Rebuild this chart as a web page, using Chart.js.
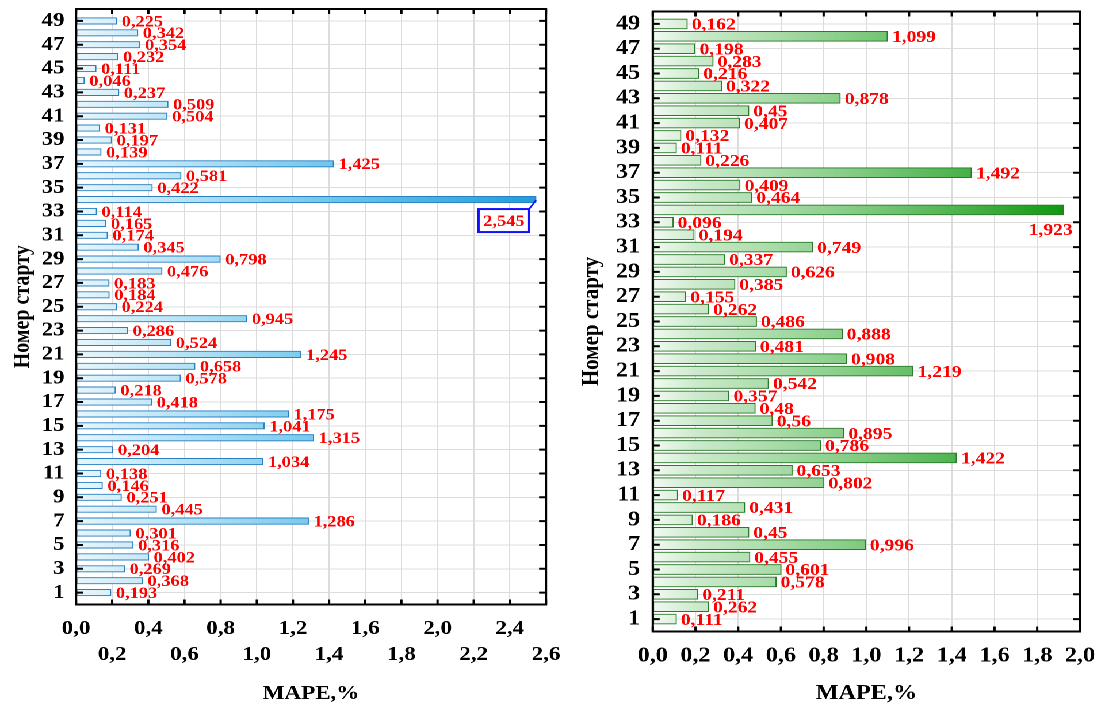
<!DOCTYPE html>
<html>
<head>
<meta charset="utf-8">
<script src="https://cdn.jsdelivr.net/npm/chart.js@4.4.1/dist/chart.umd.min.js"></script>
<style>
  html, body { margin: 0; padding: 0; background: #fff; overflow: hidden; }
  /* the whole figure is drawn a little narrower and widened as one piece */
  #stage { position: absolute; left: 0; top: 0; width: 957px; height: 706px;
           transform-origin: 0 0; transform: scaleX(1.15047); }
  #left  { position: absolute; left: 0;     top: 0; width: 500px; height: 706px; }
  #right { position: absolute; left: 500px; top: 0; width: 457px; height: 706px; }
</style>
</head>
<body>
<div id="stage">
  <canvas id="left" width="500" height="706"></canvas>
  <canvas id="right" width="457" height="706"></canvas>
</div>
<script>
// start numbers (bottom to top)
const startNumbers = [1, 2, 3, 4, 5, 6, 7, 8, 9, 10, 11, 12, 13, 14, 15, 16, 17, 18, 19, 20,
  21, 22, 23, 24, 25, 26, 27, 28, 29, 30, 31, 32, 33, 34, 35, 36, 37, 38, 39, 40,
  41, 42, 43, 44, 45, 46, 47, 48, 49];

// MAPE, % — first model
const mapeLeft = [0.193, 0.368, 0.269, 0.402, 0.316, 0.301, 1.286, 0.445, 0.251, 0.146,
  0.138, 1.034, 0.204, 1.315, 1.041, 1.175, 0.418, 0.218, 0.578, 0.658,
  1.245, 0.524, 0.286, 0.945, 0.224, 0.184, 0.183, 0.476, 0.798, 0.345,
  0.174, 0.165, 0.114, 2.545, 0.422, 0.581, 1.425, 0.139, 0.197, 0.131,
  0.504, 0.509, 0.237, 0.046, 0.111, 0.232, 0.354, 0.342, 0.225];

// MAPE, % — second model
const mapeRight = [0.111, 0.262, 0.211, 0.578, 0.601, 0.455, 0.996, 0.45, 0.186, 0.431,
  0.117, 0.802, 0.653, 1.422, 0.786, 0.895, 0.56, 0.48, 0.357, 0.542,
  1.219, 0.908, 0.481, 0.888, 0.486, 0.262, 0.155, 0.385, 0.626, 0.337,
  0.749, 0.194, 0.096, 1.923, 0.464, 0.409, 1.492, 0.226, 0.111, 0.132,
  0.407, 0.45, 0.878, 0.322, 0.216, 0.283, 0.198, 1.099, 0.162];

// tick values
const startTicks = [1, 3, 5, 7, 9, 11, 13, 15, 17, 19, 21, 23, 25, 27, 29, 31, 33, 35, 37, 39,
  41, 43, 45, 47, 49];
const mapeTicksLeft = [0, 0.2, 0.4, 0.6, 0.8, 1.0, 1.2, 1.4, 1.6, 1.8, 2.0, 2.2, 2.4, 2.6];
const mapeTicksRight = [0, 0.2, 0.4, 0.6, 0.8, 1.0, 1.2, 1.4, 1.6, 1.8, 2.0];

const SERIF = '"Liberation Serif", "Times New Roman", serif';
const comma = v => String(v).replace('.', ',');

function axisGradient(stops) {
  return c => {
    const chart = c.chart, a = chart.chartArea;
    if (!a) return stops[0][1];
    const g = chart.ctx.createLinearGradient(a.left, 0, a.right, 0);
    stops.forEach(([o, col]) => g.addColorStop(o, col));
    return g;
  };
}

// frame with inward tick marks on all four sides
const framePlugin = {
  id: 'frame',
  afterDatasetsDraw(chart) {
    const { ctx, chartArea: a, scales: { x, y } } = chart;
    ctx.save();
    ctx.strokeStyle = '#000';
    ctx.lineWidth = 2;
    ctx.beginPath();
    x.ticks.forEach(t => {
      const px = x.getPixelForValue(t.value);
      ctx.moveTo(px, a.bottom); ctx.lineTo(px, a.bottom - 5);
      ctx.moveTo(px, a.top); ctx.lineTo(px, a.top + 5);
    });
    y.ticks.forEach(t => {
      const py = y.getPixelForValue(t.value);
      ctx.moveTo(a.left, py); ctx.lineTo(a.left + 6, py);
      ctx.moveTo(a.right, py); ctx.lineTo(a.right - 6, py);
    });
    ctx.stroke();
    ctx.strokeRect(a.left, a.top, a.right - a.left, a.bottom - a.top);
    ctx.restore();
  }
};

// red value labels next to the bar ends
const valueLabelPlugin = {
  id: 'valueLabels',
  afterDraw(chart, args, opts) {
    const { ctx } = chart;
    const meta = chart.getDatasetMeta(0);
    const pts = chart.data.datasets[0].data;
    const size = opts.size;
    ctx.save();
    ctx.font = `bold ${size}px ${SERIF}`;
    ctx.fillStyle = '#ff0000';
    ctx.textBaseline = 'alphabetic';
    meta.data.forEach((bar, i) => {
      const p = pts[i];
      const txt = comma(p.x);
      const half = 0.338 * size;
      if (p.y === opts.boxedAt) {
        const w = ctx.measureText(txt).width + 8, h = 23;
        const bx = bar.x - 6 - w, by = bar.y + 9.5;
        ctx.fillStyle = '#fff';
        ctx.fillRect(bx, by, w, h);
        ctx.strokeStyle = '#1010ff';
        ctx.lineWidth = 2;
        ctx.strokeRect(bx, by, w, h);
        ctx.beginPath();
        ctx.lineWidth = 1.5;
        ctx.moveTo(bx + w, by);
        ctx.lineTo(bar.x, bar.y + 0.5);
        ctx.stroke();
        ctx.fillStyle = '#ff0000';
        ctx.textAlign = 'center';
        ctx.fillText(txt, bx + w / 2, by + h / 2 + half);
      } else if (p.y === opts.belowAt) {
        ctx.textAlign = 'right';
        ctx.fillText(txt, bar.x + 8, bar.y + 19.5 + half);
      } else {
        ctx.textAlign = 'left';
        ctx.fillText(txt, bar.x + opts.gap, bar.y + half);
      }
    });
    ctx.restore();
  }
};

function makePanel(id, cfg) {
  const el = document.getElementById(id);
  const W = el.width, H = el.height, A = cfg.area;
  const tickFont = { family: SERIF, size: cfg.tickSize, weight: 'bold', lineHeight: cfg.tickLine };
  const titleFont = { family: SERIF, size: cfg.titleSize, weight: 'bold', lineHeight: 1.2 };
  return new Chart(el, {
    type: 'bar',
    data: {
      datasets: [{
        data: cfg.values.map((v, i) => ({ x: v, y: startNumbers[i] })),
        backgroundColor: axisGradient(cfg.stops),
        borderColor: cfg.border,
        borderWidth: 1,
        borderSkipped: false,
        barThickness: cfg.thickness
      }]
    },
    options: {
      indexAxis: 'y',
      responsive: false,
      devicePixelRatio: 2,
      animation: false,
      events: [],
      layout: { padding: { left: 0, top: A.top, right: W - A.right, bottom: 0 } },
      plugins: {
        legend: { display: false },
        tooltip: { enabled: false },
        valueLabels: cfg.labels
      },
      scales: {
        x: {
          type: 'linear',
          position: 'bottom',
          min: 0,
          max: cfg.xTicks[cfg.xTicks.length - 1],
          offset: false,
          afterBuildTicks: s => { s.ticks = cfg.xTicks.map(v => ({ value: v })); },
          afterFit: s => { s.height = H - A.bottom; s.paddingLeft = 0; s.paddingRight = 0; },
          grid: { color: '#dcdcdc', lineWidth: 1, drawTicks: false, offset: false },
          border: { display: false },
          ticks: {
            autoSkip: false, maxRotation: 0, minRotation: 0,
            padding: cfg.xPad, color: '#000', font: tickFont,
            callback: (v, i) => {
              const s = v.toFixed(1).replace('.', ',');
              return cfg.staggered && i % 2 === 1 ? ['', s] : s;
            }
          },
          title: {
            display: true, text: 'MAPE,%', color: '#000', font: titleFont,
            padding: { top: cfg.xTitlePad, bottom: 0 }
          }
        },
        y: {
          type: 'linear',
          min: 0,
          max: 50,
          offset: false,
          grace: 0,
          afterBuildTicks: s => { s.ticks = startTicks.map(v => ({ value: v })); },
          afterFit: s => { s.width = A.left; s.paddingTop = 0; s.paddingBottom = 0; },
          grid: { color: '#dcdcdc', lineWidth: 1, drawTicks: false, offset: false },
          border: { display: false },
          ticks: {
            autoSkip: false, padding: cfg.yPad, color: '#000',
            font: { family: SERIF, size: cfg.tickSize, weight: 'bold' },
            callback: v => String(v)
          },
          title: {
            display: true, text: 'Номер старту', color: '#000', font: titleFont,
            padding: { top: cfg.yTitlePad, bottom: 0 }
          }
        }
      }
    },
    plugins: [framePlugin, valueLabelPlugin]
  });
}

makePanel('left', {
  values: mapeLeft,
  xTicks: mapeTicksLeft,
  staggered: true,
  area: { left: 66.1, right: 474.6, top: 9, bottom: 604.5 },
  stops: [[0, '#e8f6fc'], [0.2, '#bde5f6'], [0.55, '#6cc6ec'], [1, '#1a9cdb']],
  border: '#2a7fc1',
  thickness: 6.5,
  tickSize: 20, tickLine: 1.3, titleSize: 20,
  xPad: 11.5, yPad: 10, xTitlePad: 1, yTitlePad: 8,
  labels: { size: 16, gap: 4.3, boxedAt: 34 }
});

makePanel('right', {
  values: mapeRight,
  xTicks: mapeTicksRight,
  staggered: false,
  area: { left: 67.4, right: 438.7, top: 11.5, bottom: 631.5 },
  stops: [[0, '#f2faf2'], [0.1, '#cdeacd'], [0.45, '#88ce88'], [0.75, '#45b045'], [1, '#059505']],
  border: '#2b7a2b',
  thickness: 10,
  tickSize: 21, tickLine: 1.2, titleSize: 21,
  xPad: 11.9, yPad: 11, xTitlePad: 0.4, yTitlePad: 2.2,
  labels: { size: 17, gap: 3.8, belowAt: 34 }
});
</script>
</body>
</html>
